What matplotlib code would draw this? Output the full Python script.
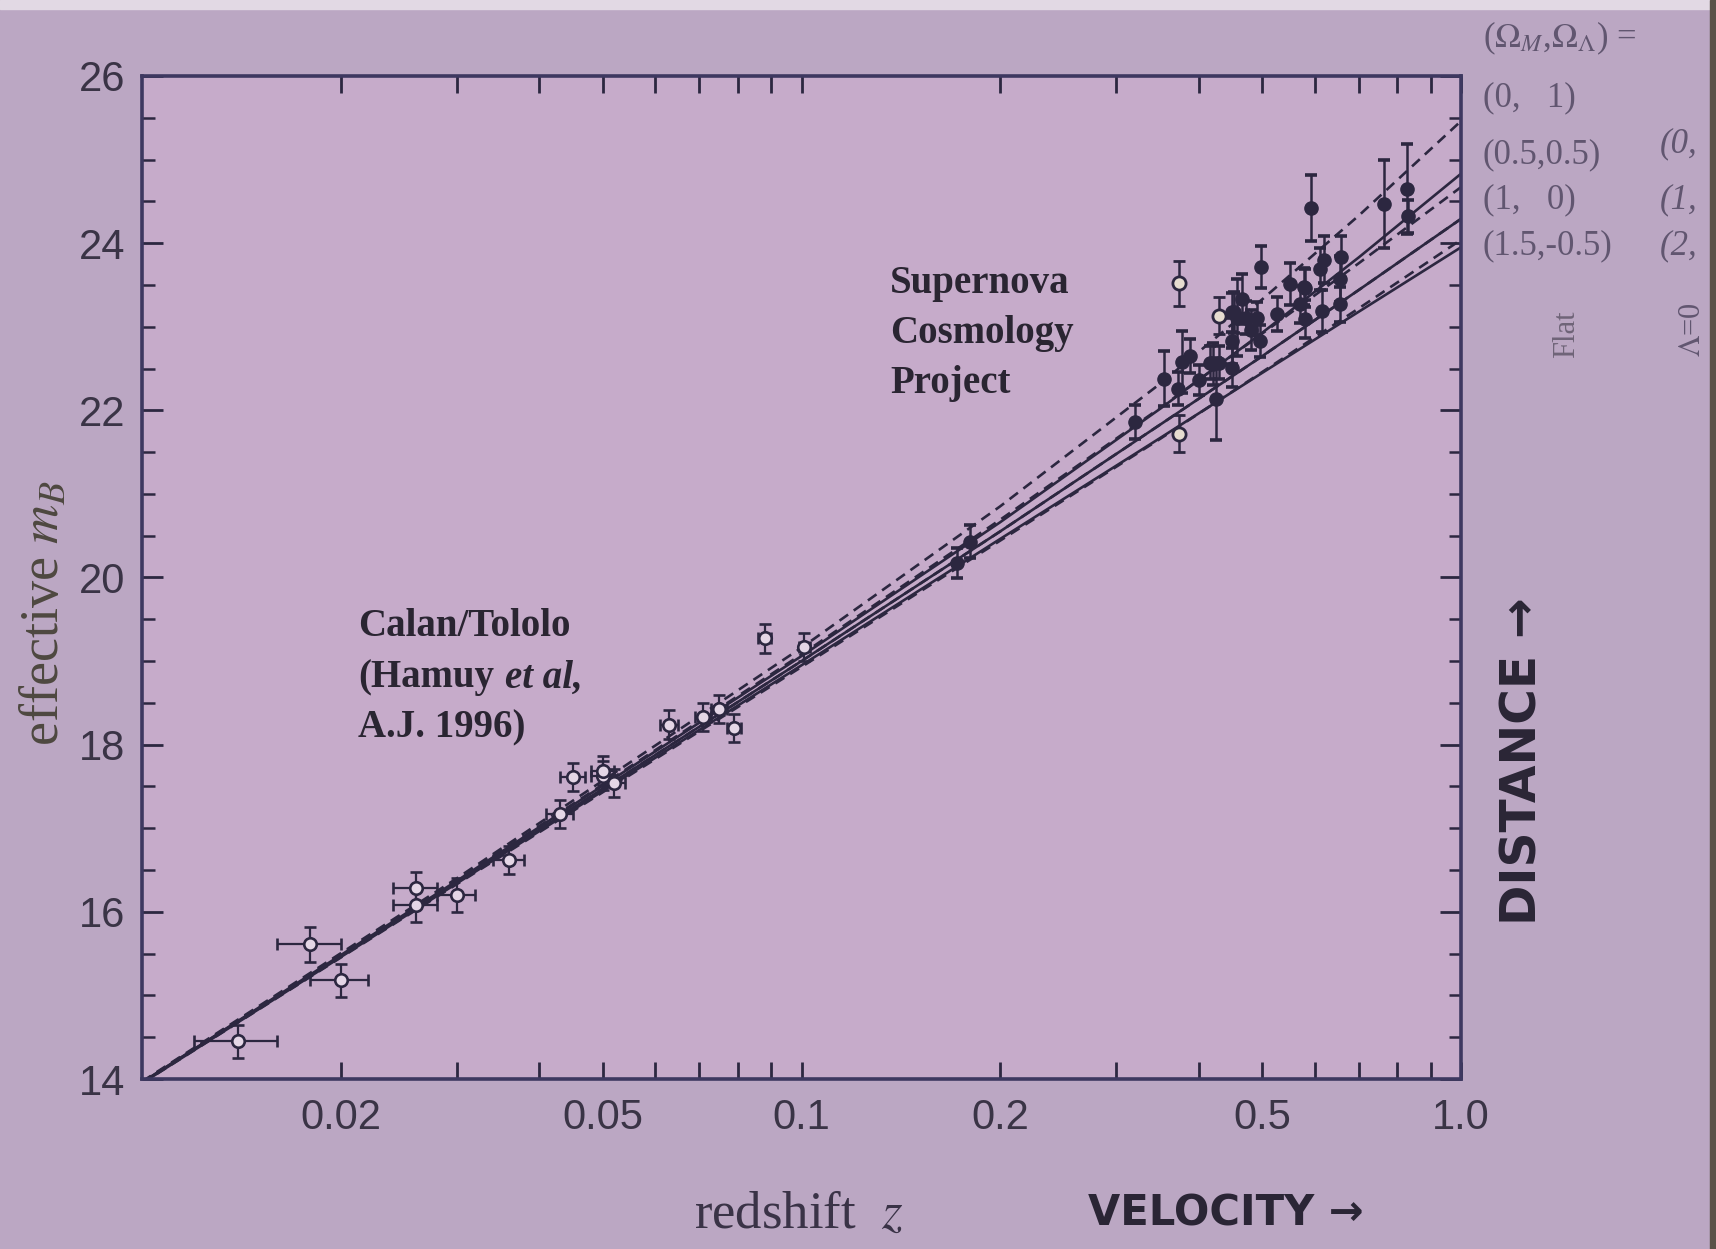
import matplotlib
matplotlib.use("Agg")
import matplotlib.pyplot as plt
from matplotlib.patches import Rectangle
from matplotlib.ticker import FixedLocator, FixedFormatter, MultipleLocator

# Calan/Tololo low-redshift supernovae
ct_z = [0.014, 0.018, 0.020, 0.026, 0.026, 0.030, 0.036, 0.043, 0.045,
        0.050, 0.050, 0.052, 0.063, 0.071, 0.075, 0.079, 0.088, 0.101]
ct_m = [14.45, 15.61, 15.18, 16.08, 16.28, 16.20, 16.62, 17.17, 17.61,
        17.63, 17.69, 17.54, 18.24, 18.33, 18.43, 18.20, 19.27, 19.17]
ct_err = [0.20, 0.21, 0.20, 0.20, 0.20, 0.20, 0.17, 0.17, 0.17,
          0.17, 0.17, 0.17, 0.17, 0.17, 0.17, 0.17, 0.17, 0.17]
ct_zerr = 0.002

# Supernova Cosmology Project high-redshift supernovae (filled symbols)
scp_z = [0.172, 0.180, 0.320, 0.354, 0.372, 0.378, 0.388, 0.400, 0.416, 0.420,
         0.425, 0.430, 0.450, 0.450, 0.450, 0.453, 0.458, 0.465, 0.472, 0.480,
         0.490, 0.495, 0.498, 0.526, 0.550, 0.570, 0.579, 0.580, 0.581, 0.592,
         0.612, 0.615, 0.619, 0.655, 0.656, 0.657, 0.763, 0.828, 0.830]
scp_m = [20.17, 20.43, 21.86, 22.38, 22.26, 22.58, 22.65, 22.36, 22.57, 22.55,
         22.13, 22.57, 22.51, 23.17, 22.83, 23.17, 23.11, 23.33, 23.11, 22.96,
         23.10, 22.83, 23.71, 23.15, 23.51, 23.27, 23.48, 23.46, 23.09, 24.42,
         23.69, 23.19, 23.80, 23.27, 23.57, 23.83, 24.47, 24.65, 24.32]
scp_err = [0.18, 0.20, 0.20, 0.33, 0.20, 0.37, 0.20, 0.18, 0.20, 0.25,
           0.49, 0.20, 0.23, 0.23, 0.28, 0.25, 0.46, 0.30, 0.20, 0.24,
           0.20, 0.19, 0.25, 0.20, 0.25, 0.22, 0.22, 0.23, 0.23, 0.39,
           0.25, 0.25, 0.28, 0.21, 0.28, 0.25, 0.53, 0.54, 0.20]

# SCP supernovae drawn with open symbols
scp_open_z = [0.374, 0.374, 0.430]
scp_open_m = [23.52, 21.72, 23.13]
scp_open_err = [0.27, 0.22, 0.22]

# model m_B(z) curves
model_z = [0.01, 0.03, 0.1, 0.2, 0.35, 0.5, 0.7, 1.0]
flat_0_1 = [13.97, 16.40, 19.16, 20.85, 22.32, 23.33, 24.33, 25.46]
flat_05_05 = [13.96, 16.38, 19.08, 20.69, 22.03, 22.92, 23.76, 24.67]
flat_1_0 = [13.96, 16.35, 19.00, 20.55, 21.83, 22.65, 23.44, 24.29]
flat_15_m05 = [13.95, 16.33, 18.93, 20.44, 21.66, 22.46, 23.22, 24.04]
lam0_0_0 = [13.96, 16.37, 19.06, 20.66, 22.02, 22.93, 23.83, 24.83]
lam0_1_0 = [13.96, 16.35, 19.00, 20.55, 21.83, 22.65, 23.44, 24.29]
lam0_2_0 = [13.95, 16.34, 18.95, 20.46, 21.67, 22.45, 23.18, 23.95]

xtick_pos = [0.02, 0.03, 0.04, 0.05, 0.06, 0.07, 0.08, 0.09, 0.1,
             0.2, 0.3, 0.4, 0.5, 0.6, 0.7, 0.8, 0.9, 1.0]
xtick_labels = ["0.02", "", "", "0.05", "", "", "", "", "0.1",
                "0.2", "", "", "0.5", "", "", "", "", "1.0"]

BG_OUT = "#bba7c3"
BG_IN = "#c6abca"
INK = "#2c2740"
TICKTXT = "#3a3446"
FAINT = "#615670"

plt.rcParams["font.family"] = ["Liberation Sans", "DejaVu Sans"]
plt.rcParams["mathtext.fontset"] = "stix"

fig = plt.figure(figsize=(17.16, 12.49), dpi=100, facecolor=BG_OUT)
ax = fig.add_axes([0.0828, 0.1361, 0.7686, 0.8031], facecolor=BG_IN)

# model curves: flat universes dashed, zero-Lambda solid
for ys in (flat_0_1, flat_05_05, flat_1_0, flat_15_m05):
    ax.plot(model_z, ys, color=INK, lw=1.9, ls=(0, (4, 2.6)), zorder=2)
for ys in (lam0_0_0, lam0_1_0, lam0_2_0):
    ax.plot(model_z, ys, color=INK, lw=1.9, zorder=2)

ax.errorbar(ct_z, ct_m, yerr=ct_err, xerr=ct_zerr, fmt="o", ms=9,
            mfc="#e4d6e6", mec=INK, mew=1.9, ecolor=INK, elinewidth=1.6,
            capsize=4.5, capthick=2.2, zorder=3)
ax.errorbar(scp_z, scp_m, yerr=scp_err, fmt="o", ms=9.5,
            mfc=INK, mec=INK, ecolor=INK, elinewidth=1.8,
            capsize=4.5, capthick=2.6, zorder=3)
ax.errorbar(scp_open_z, scp_open_m, yerr=scp_open_err, fmt="o", ms=9.5,
            mfc="#e6dcd0", mec=INK, mew=2.0, ecolor=INK, elinewidth=1.8,
            capsize=4.5, capthick=2.6, zorder=4)

ax.set_xscale("log")
ax.set_xlim(0.01, 1.0)
ax.set_ylim(14, 26)
ax.xaxis.set_major_locator(FixedLocator(xtick_pos))
ax.xaxis.set_major_formatter(FixedFormatter(xtick_labels))
ax.xaxis.set_minor_locator(FixedLocator([]))
ax.yaxis.set_major_locator(MultipleLocator(2))
ax.yaxis.set_minor_locator(MultipleLocator(0.5))

ax.tick_params(axis="both", which="both", direction="in", top=True, right=True,
               colors=INK, labelcolor=TICKTXT, labelsize=30)
ax.tick_params(axis="x", which="major", length=12, width=2, pad=14)
ax.tick_params(axis="y", which="major", length=15, width=2, pad=12)
ax.tick_params(axis="y", which="minor", length=9, width=1.8)
for sp in ax.spines.values():
    sp.set_color("#3d3860")
    sp.set_linewidth(2.6)

serif = ["Liberation Serif", "DejaVu Serif"]

fig.text(0.0268, 0.509, r"effective $m_B$", rotation=90, ha="center",
         va="center", family=serif, fontsize=39, color="#4e4840")
fig.text(0.4656, 0.027, r"redshift  $z$", ha="center", va="center",
         family=serif, fontsize=38, color="#3a3347")
fig.text(0.7145, 0.0288, "VELOCITY \u2192", ha="center", va="center",
         family="DejaVu Sans", weight="bold", fontsize=30, color="#2a2535")
fig.text(0.8875, 0.3907, "DISTANCE \u2192", rotation=90, ha="center",
         va="center", family="DejaVu Sans", weight="bold", fontsize=35,
         color="#2a2535")

for txt, py in (("Supernova", 284), ("Cosmology", 334), ("Project", 383)):
    fig.text(890 / 1716, 1 - py / 1249, txt, ha="left", va="center",
             family=serif, weight="bold", fontsize=28, color="#2a2532")

fig.text(358 / 1716, 1 - 627 / 1249, "Calan/Tololo", ha="left", va="center",
         family=serif, weight="bold", fontsize=28, color="#2a2532")
t_ham = fig.text(358 / 1716, 1 - 678 / 1249, "(Hamuy", ha="left",
                 va="center", family=serif, weight="bold", fontsize=28,
                 color="#2a2532")
ax.annotate("et al,", xy=(1, 0), xycoords=t_ham, xytext=(8, 0),
            textcoords="offset points", ha="left", va="bottom",
            family=serif, weight="bold", style="italic", fontsize=28,
            color="#2a2532")
fig.text(358 / 1716, 1 - 728 / 1249, "A.J. 1996)", ha="left", va="center",
         family=serif, weight="bold", fontsize=28, color="#2a2532")

# model key along the right edge
fig.text(1483 / 1716, 1 - 38 / 1249, r"($\Omega_M$,$\Omega_\Lambda$) =",
         ha="left", va="center", family=serif, fontsize=25, color=FAINT)
for txt, py in (("(0,   1)", 98), ("(0.5,0.5)", 155), ("(1,   0)", 200),
                ("(1.5,-0.5)", 246)):
    fig.text(1483 / 1716, 1 - py / 1249, txt, ha="left", va="center",
             family=serif, fontsize=25, color=FAINT)
for txt, py in (("(0,", 144), ("(1,", 200), ("(2,", 246)):
    fig.text(1660 / 1716, 1 - py / 1249, txt, ha="left", va="center",
             family=serif, style="italic", fontsize=25, color=FAINT)
fig.text(1567 / 1716, 1 - 334 / 1249, "Flat", rotation=90, ha="center",
         va="center", family=serif, fontsize=22, color="#6f6478")
fig.text(1692 / 1716, 1 - 330 / 1249, r"$\Lambda$=0", rotation=90,
         ha="center", va="center", family=serif, fontsize=22, color=FAINT)

# light strip on top and dark edge at the right
fig.patches.append(Rectangle((0, 1 - 9 / 1249), 1, 9 / 1249,
                             transform=fig.transFigure, color="#e2d9e4",
                             zorder=0))
fig.patches.append(Rectangle((1 - 6 / 1716, 0), 6 / 1716, 1,
                             transform=fig.transFigure, color="#5a5248",
                             zorder=0))

fig.savefig("out.png", dpi=100, facecolor=BG_OUT)
